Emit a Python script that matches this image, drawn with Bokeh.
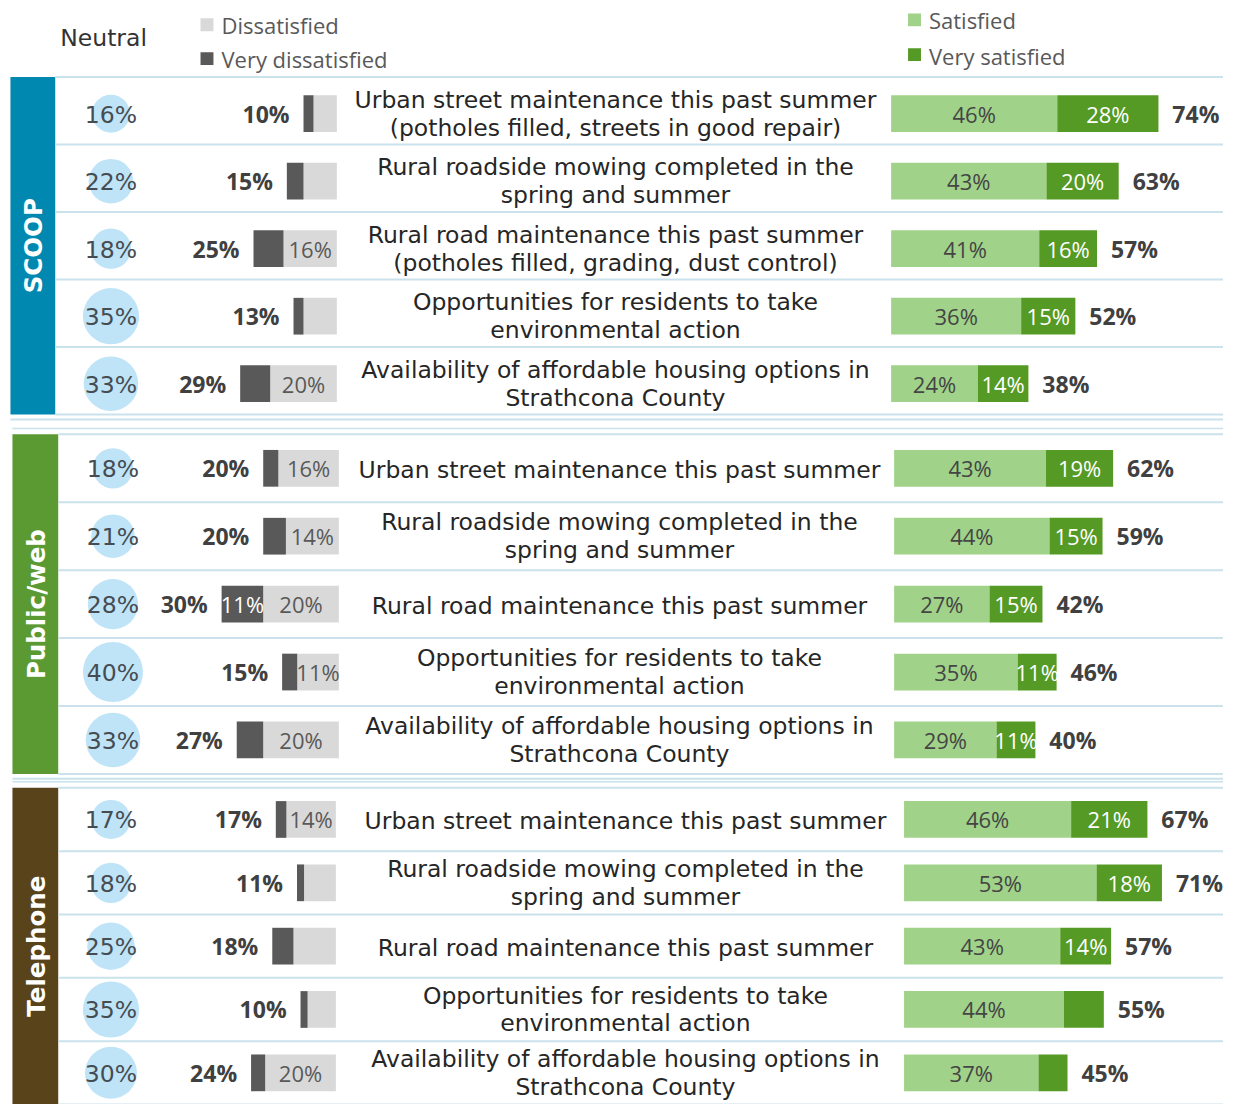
import numpy as np
from bokeh.plotting import figure
from bokeh.models import Range1d
from bokeh.core.properties import value
from bokeh.embed import file_html
from bokeh.resources import INLINE

# ---------------- data ----------------
groups = ["SCOOP", "Public/web", "Telephone"]

labels_scoop = [
    ["Urban street maintenance this past summer", "(potholes filled, streets in good repair)"],
    ["Rural roadside mowing completed in the", "spring and summer"],
    ["Rural road maintenance this past summer", "(potholes filled, grading, dust control)"],
    ["Opportunities for residents to take", "environmental action"],
    ["Availability of affordable housing options in", "Strathcona County"],
]
labels_other = [
    ["Urban street maintenance this past summer"],
    ["Rural roadside mowing completed in the", "spring and summer"],
    ["Rural road maintenance this past summer"],
    ["Opportunities for residents to take", "environmental action"],
    ["Availability of affordable housing options in", "Strathcona County"],
]

neutral_scoop = [16, 22, 18, 35, 33]
neutral_public = [18, 21, 28, 40, 33]
neutral_phone = [17, 18, 25, 35, 30]

dissat_scoop = [7, 10, 16, 10, 20]
vdissat_scoop = [3, 5, 9, 3, 9]
dissat_total_scoop = [10, 15, 25, 13, 29]
dissat_show_scoop = [False, False, True, False, True]
vdissat_show_scoop = [False, False, False, False, False]

dissat_public = [16, 14, 20, 11, 20]
vdissat_public = [4, 6, 11, 4, 7]
dissat_total_public = [20, 20, 30, 15, 27]
dissat_show_public = [True, True, True, True, True]
vdissat_show_public = [False, False, True, False, False]

dissat_phone = [14, 9, 12, 8, 20]
vdissat_phone = [3, 2, 6, 2, 4]
dissat_total_phone = [17, 11, 18, 10, 24]
dissat_show_phone = [True, False, False, False, True]
vdissat_show_phone = [False, False, False, False, False]

sat_scoop = [46, 43, 41, 36, 24]
vsat_scoop = [28, 20, 16, 15, 14]
sat_total_scoop = [74, 63, 57, 52, 38]
vsat_show_scoop = [True, True, True, True, True]

sat_public = [43, 44, 27, 35, 29]
vsat_public = [19, 15, 15, 11, 11]
sat_total_public = [62, 59, 42, 46, 40]
vsat_show_public = [True, True, True, True, True]

sat_phone = [46, 53, 43, 44, 37]
vsat_phone = [21, 18, 14, 11, 8]
sat_total_phone = [67, 71, 57, 55, 45]
vsat_show_phone = [True, True, True, False, False]

# ---------------- styling / layout ----------------
C_SAT = "#a0d389"
C_VSAT = "#559a24"
C_DIS = "#d9d9d9"
C_VDIS = "#595959"
C_NEU = "#bfe4f7"
C_LINE = "#c9e2ec"
SIDE_COLORS = ["#0088b0", "#5b9a32", "#58431b"]
TXT = "#262626"

FONT = value("DejaVu Sans")
FONT2 = value("Open Sans")

sections = [
    dict(top=77, bottom=417, side=(10, 55), neu_x=111, dis_right=338, dis_scale=3.35,
         lab_x=618, sat_left=895, sat_scale=3.63, line_x=(55, 1232), yoff=3,
         labels=labels_scoop, neu=neutral_scoop, dis=dissat_scoop, vdis=vdissat_scoop,
         dtot=dissat_total_scoop, dshow=dissat_show_scoop, vdshow=vdissat_show_scoop,
         sat=sat_scoop, vsat=vsat_scoop, stot=sat_total_scoop, vsshow=vsat_show_scoop),
    dict(top=437, bottom=779, side=(12, 58), neu_x=113, dis_right=340, dis_scale=3.8,
         lab_x=622, sat_left=898, sat_scale=3.55, line_x=(58, 1237), yoff=0,
         labels=labels_other, neu=neutral_public, dis=dissat_public, vdis=vdissat_public,
         dtot=dissat_total_public, dshow=dissat_show_public, vdshow=vdissat_show_public,
         sat=sat_public, vsat=vsat_public, stot=sat_total_public, vsshow=vsat_show_public),
    dict(top=793, bottom=1112, side=(12, 58), neu_x=111, dis_right=337, dis_scale=3.55,
         lab_x=628, sat_left=908, sat_scale=3.65, line_x=(58, 1239), yoff=0,
         labels=labels_other, neu=neutral_phone, dis=dissat_phone, vdis=vdissat_phone,
         dtot=dissat_total_phone, dshow=dissat_show_phone, vdshow=vdissat_show_phone,
         sat=sat_phone, vsat=vsat_phone, stot=sat_total_phone, vsshow=vsat_show_phone),
]

W, H = 1223, 1104
p = figure(width=W, height=H, x_range=Range1d(0, 1229), y_range=Range1d(1112, 0),
           output_backend="svg", toolbar_location=None, min_border=0)
p.axis.visible = False
p.grid.visible = False
p.outline_line_color = None
p.background_fill_color = "white"
p.border_fill_color = "white"

# ---------------- header legend ----------------
p.text([60], [38], text=["Neutral"], text_font=FONT, text_font_size="23.5px",
       text_color="#333333", text_baseline="middle", text_align="left")
p.quad(left=[201, 201], right=[214, 214], top=[18, 52], bottom=[31, 65],
       fill_color=[C_DIS, C_VDIS], line_color=None)
p.text([222, 222], [25, 59], text=["Dissatisfied", "Very dissatisfied"], text_font=FONT2,
       text_font_size="22px", text_color="#595959", text_baseline="middle", text_align="left")
p.quad(left=[912, 912], right=[925, 925], top=[13, 48], bottom=[26, 61],
       fill_color=[C_SAT, C_VSAT], line_color=None)
p.text([933, 933], [20, 56], text=["Satisfied", "Very satisfied"], text_font=FONT2,
       text_font_size="22px", text_color="#595959", text_baseline="middle", text_align="left")

BAR_H = 37

for gi, s in enumerate(sections):
    n = len(s["neu"])
    rh = (s["bottom"] - s["top"]) / n
    centers = [s["top"] + rh * (i + 0.5) for i in range(n)]
    bc = [c + s["yoff"] for c in centers]
    btop = [c - BAR_H / 2 for c in bc]
    bbot = [c + BAR_H / 2 for c in bc]

    # side band
    p.quad(left=[s["side"][0]], right=[s["side"][1]], top=[s["top"]], bottom=[s["bottom"]],
           fill_color=SIDE_COLORS[gi], line_color=None)
    p.text([(s["side"][0] + s["side"][1]) / 2 + 1], [(s["top"] + s["bottom"]) / 2],
           text=[groups[gi]], angle=np.pi / 2, text_font=value("DejaVu Sans"),
           text_font_style="bold", text_font_size="24.5px", text_color="white",
           text_align="center", text_baseline="middle")

    # separators
    ys = [s["top"] + rh * i for i in range(n + 1)]
    p.segment(x0=[s["line_x"][0]] * len(ys), x1=[s["line_x"][1]] * len(ys), y0=ys, y1=ys,
              line_color=C_LINE, line_width=2)
    if gi < 2:
        p.segment(x0=[s["side"][0]], x1=[s["line_x"][1]], y0=[s["bottom"] + 5],
                  y1=[s["bottom"] + 5], line_color=C_LINE, line_width=2)
    if gi > 0:
        p.segment(x0=[s["side"][0]], x1=[s["line_x"][1]], y0=[s["top"] - 6],
                  y1=[s["top"] - 6], line_color=C_LINE, line_width=1.5)

    # neutral bubbles
    sizes = [9.5 * np.sqrt(v) for v in s["neu"]]
    p.scatter(x=[s["neu_x"]] * n, y=bc, size=sizes, marker="circle",
              fill_color=C_NEU, line_color=None)
    p.text([s["neu_x"]] * n, [c + 1 for c in bc], text=[f"{v}%" for v in s["neu"]],
           text_font=FONT, text_font_size="23.5px", text_color="#454c52",
           text_align="center", text_baseline="middle")

    # dissatisfied bars (stacked leftwards)
    ds = s["dis_scale"]
    dis_left = [s["dis_right"] - v * ds for v in s["dis"]]
    vdis_left = [dl - v * ds for dl, v in zip(dis_left, s["vdis"])]
    p.quad(left=dis_left, right=[s["dis_right"]] * n, top=btop, bottom=bbot,
           fill_color=C_DIS, line_color=None)
    p.quad(left=vdis_left, right=dis_left, top=btop, bottom=bbot,
           fill_color=C_VDIS, line_color=None)
    xs, yy, tt = [], [], []
    for i in range(n):
        if s["dshow"][i]:
            xs.append((dis_left[i] + s["dis_right"]) / 2); yy.append(bc[i]); tt.append(f"{s['dis'][i]}%")
    p.text(xs, yy, text=tt, text_font=FONT2, text_font_size="22px", text_color="#595959",
           text_align="center", text_baseline="middle")
    xs, yy, tt = [], [], []
    for i in range(n):
        if s["vdshow"][i]:
            xs.append((dis_left[i] + vdis_left[i]) / 2); yy.append(bc[i]); tt.append(f"{s['vdis'][i]}%")
    p.text(xs, yy, text=tt, text_font=FONT2, text_font_size="22px", text_color="white",
           text_align="center", text_baseline="middle")
    p.text([vl - 14 for vl in vdis_left], bc, text=[f"{v}%" for v in s["dtot"]],
           text_font=FONT2, text_font_style="bold", text_font_size="23px",
           text_color="#404040", text_align="right", text_baseline="middle")

    # row labels
    lx, ly, lt = [], [], []
    for i, lines in enumerate(s["labels"]):
        if len(lines) == 1:
            lx.append(s["lab_x"]); ly.append(bc[i] + 2); lt.append(lines[0])
        else:
            lx += [s["lab_x"]] * 2; ly += [bc[i] - 14, bc[i] + 14]; lt += lines
    p.text(lx, ly, text=lt, text_font=FONT, text_font_size="23.5px", text_color=TXT,
           text_align="center", text_baseline="middle")

    # satisfied bars
    ss = s["sat_scale"]
    sat_right = [s["sat_left"] + v * ss for v in s["sat"]]
    vsat_right = [sr + v * ss for sr, v in zip(sat_right, s["vsat"])]
    p.quad(left=[s["sat_left"]] * n, right=sat_right, top=btop, bottom=bbot,
           fill_color=C_SAT, line_color=None)
    p.quad(left=sat_right, right=vsat_right, top=btop, bottom=bbot,
           fill_color=C_VSAT, line_color=None)
    p.text([(s["sat_left"] + sr) / 2 for sr in sat_right], bc, text=[f"{v}%" for v in s["sat"]],
           text_font=FONT2, text_font_size="22px", text_color="#454545",
           text_align="center", text_baseline="middle")
    xs, yy, tt = [], [], []
    for i in range(n):
        if s["vsshow"][i]:
            xs.append((sat_right[i] + vsat_right[i]) / 2); yy.append(bc[i]); tt.append(f"{s['vsat'][i]}%")
    p.text(xs, yy, text=tt, text_font=FONT2, text_font_size="22px", text_color="white",
           text_align="center", text_baseline="middle")
    p.text([vr + 14 for vr in vsat_right], bc, text=[f"{v}%" for v in s["stot"]],
           text_font=FONT2, text_font_style="bold", text_font_size="23px",
           text_color="#404040", text_align="left", text_baseline="middle")

open("out.html", "w").write(file_html(p, INLINE))
